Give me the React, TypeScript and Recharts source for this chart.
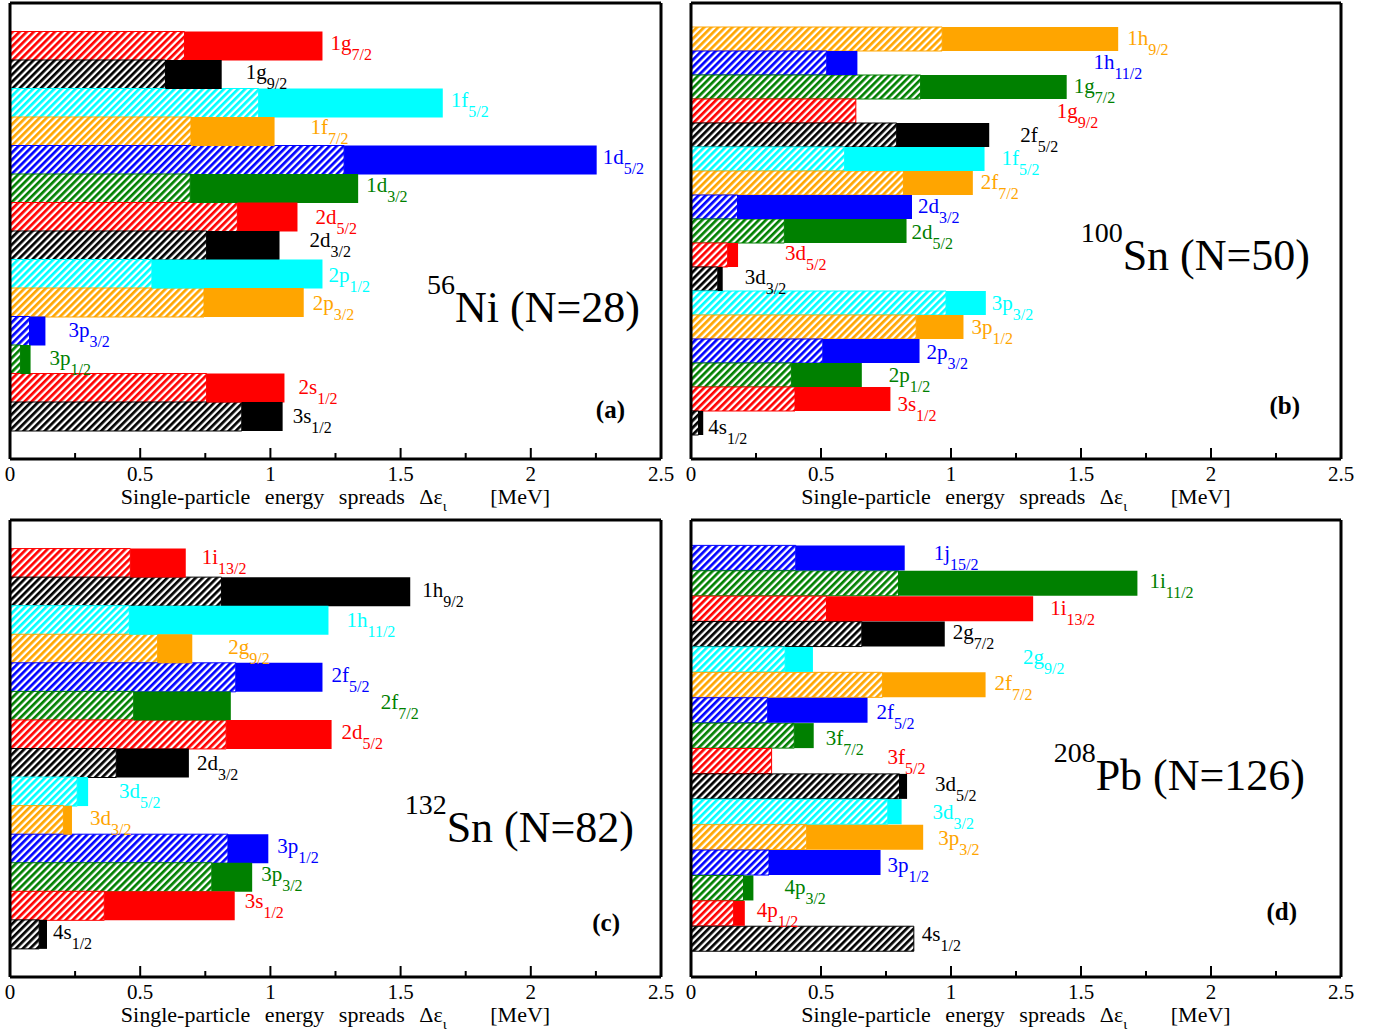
import React from 'react';
import { BarChart, Bar, XAxis, YAxis, Cell, LabelList } from 'recharts';

const SERIF = '"Liberation Serif", "Times New Roman", serif';

// colours cycle from the lowest bar upward
const PALETTE = ['#000000', '#ff0000', '#008000', '#0000ff', '#ffa500', '#00ffff'];

const TICKS = [0, 0.25, 0.5, 0.75, 1, 1.25, 1.5, 1.75, 2, 2.25, 2.5];
const TICK_LABELS = ['0', '', '0.5', '', '1', '', '1.5', '', '2', '', '2.5'];

// (a) 56Ni
const orbitalsA = ['1g7/2', '1g9/2', '1f5/2', '1f7/2', '1d5/2', '1d3/2', '2d5/2', '2d3/2', '2p1/2', '2p3/2', '3p3/2', '3p1/2', '2s1/2', '3s1/2'];
const hatchA = [0.67, 0.597, 0.955, 0.695, 1.283, 0.692, 0.873, 0.755, 0.545, 0.745, 0.075, 0.04, 0.755, 0.89];
const totalA = [1.2, 0.813, 1.662, 1.016, 2.253, 1.337, 1.104, 1.035, 1.2, 1.128, 0.136, 0.079, 1.054, 1.047];

// (b) 100Sn
const orbitalsB = ['1h9/2', '1h11/2', '1g7/2', '1g9/2', '2f5/2', '1f5/2', '2f7/2', '2d3/2', '2d5/2', '3d5/2', '3d3/2', '3p3/2', '3p1/2', '2p3/2', '2p1/2', '3s1/2', '4s1/2'];
const hatchB = [0.966, 0.522, 0.883, 0.634, 0.791, 0.591, 0.817, 0.179, 0.359, 0.141, 0.103, 0.981, 0.866, 0.507, 0.386, 0.4, 0.029];
const totalB = [1.643, 0.64, 1.445, 0.634, 1.147, 1.129, 1.084, 0.85, 0.829, 0.181, 0.122, 1.134, 1.048, 0.879, 0.657, 0.767, 0.047];

// (c) 132Sn
const orbitalsC = ['1i13/2', '1h9/2', '1h11/2', '2g9/2', '2f5/2', '2f7/2', '2d5/2', '2d3/2', '3d5/2', '3d3/2', '3p1/2', '3p3/2', '3s1/2', '4s1/2'];
const hatchC = [0.462, 0.812, 0.458, 0.567, 0.867, 0.475, 0.83, 0.408, 0.258, 0.205, 0.837, 0.775, 0.362, 0.112];
const totalC = [0.675, 1.537, 1.223, 0.7, 1.2, 0.848, 1.235, 0.687, 0.3, 0.238, 0.992, 0.93, 0.863, 0.142];

// (d) 208Pb
const orbitalsD = ['1j15/2', '1i11/2', '1i13/2', '2g7/2', '2g9/2', '2f7/2', '2f5/2', '3f7/2', '3f5/2', '3d5/2', '3d3/2', '3p3/2', '3p1/2', '4p3/2', '4p1/2', '4s1/2'];
const hatchD = [0.403, 0.798, 0.521, 0.657, 0.362, 0.736, 0.295, 0.397, 0.31, 0.802, 0.757, 0.445, 0.3, 0.202, 0.164, 0.857];
const totalD = [0.822, 1.717, 1.316, 0.976, 0.469, 1.133, 0.679, 0.472, 0.31, 0.831, 0.81, 0.893, 0.729, 0.24, 0.207, 0.857];

// label nudges [dx from bar end, dy from bar centre]
const nudgeA = [[8, -3], [24, -3], [8, -3], [36, -5], [6, -3], [8, -4], [18, 0], [30, -6], [6, 1], [9, 0], [23, -1], [19, -2], [14, -1], [10, -1]];
const nudgeB = [[9, -1], [236, -1], [7, -1], [201, 0], [31, 0], [17, -1], [8, -1], [6, -1], [5, 1], [47, -2], [22, -2], [6, 0], [8, 0], [7, 1], [27, 0], [7, 5], [5, 4]];
const nudgeC = [[16, -6], [12, -2], [18, 0], [36, -2], [9, -2], [150, -4], [10, -2], [8, 0], [31, -1], [18, -2], [9, -3], [9, -3], [10, -5], [6, -2]];
const nudgeD = [[29, -5], [12, -2], [17, -1], [8, -2], [210, -2], [9, -2], [9, 2], [12, 2], [116, -4], [28, -2], [31, 0], [15, 1], [7, 2], [31, -1], [12, -3], [8, -5]];

const BottomTick = (p: any) => {
  const k = TICKS.indexOf(p.payload.value);
  const lbl = TICK_LABELS[k];
  return (
    <g>
      <line x1={p.x} x2={p.x} y1={p.y} y2={p.y - (lbl ? 11 : 6)} stroke="#000" strokeWidth={2} />
      {lbl && (
        <text x={p.x} y={p.y + 22} textAnchor="middle" fontFamily={SERIF} fontSize={21} fill="#000">
          {lbl}
        </text>
      )}
    </g>
  );
};

const TopTick = (p: any) => {
  const k = TICKS.indexOf(p.payload.value);
  const major = TICK_LABELS[k] !== '';
  return <line x1={p.x} x2={p.x} y1={p.y} y2={p.y + (major ? 11 : 6)} stroke="#000" strokeWidth={2} />;
};

function Panel(props: any) {
  const { id, left, top, width, height, margin, orbitals, hatch, total, nudge, sup, nucleus, titleX, titleY, tag, tagX, tagY } = props;
  const n = orbitals.length;
  const rows = orbitals.map((name: string, i: number) => ({
    name,
    hatch: hatch[i],
    solid: Math.max(0, total[i] - hatch[i]),
  }));
  const colors = orbitals.map((_: string, i: number) => PALETTE[(n - 1 - i) % 6]);
  const plotH = height - margin.top - margin.bottom - 2;
  const plotW = width - margin.left - margin.right - 2;
  const pad = plotH / (n + 2);
  const cx = margin.left + 1 + plotW / 2;
  const axisY = height - margin.bottom - 1;

  // labels hang off the hatched segment (never zero) and are pushed to the bar's full length
  const renderLabel = (p: any) => {
    const i = typeof p.value === 'string' ? orbitals.indexOf(p.value) : p.index;
    if (i < 0) return null;
    const end = Number(p.x) + (Number(p.width) * total[i]) / hatch[i];
    const cy = Number(p.y) + Number(p.height) / 2;
    const [dx, dy] = nudge[i];
    const name = orbitals[i];
    return (
      <text key={name} x={end + dx} y={cy + dy + 7} fill={colors[i]} fontFamily={SERIF} fontSize={21}>
        {name.slice(0, 2)}
        <tspan dy={10} fontSize={16}>{name.slice(2)}</tspan>
      </text>
    );
  };

  return (
    <div style={{ position: 'absolute', left, top, width, height }}>
      <BarChart width={width} height={height} data={rows} layout="vertical" margin={margin} barCategoryGap={0} barGap={0}>
        <defs>
          {PALETTE.map((c, k) => (
            <pattern key={k} id={`${id}-h${k}`} patternUnits="userSpaceOnUse" width={5} height={5} patternTransform="rotate(45)">
              <rect width={5} height={5} fill="#fff" />
              <rect width={2.7} height={5} fill={c} />
            </pattern>
          ))}
        </defs>
        <XAxis type="number" domain={[0, 2.5]} ticks={TICKS} interval={0} height={1} tickSize={0} tickMargin={0}
          tickLine={false} axisLine={{ stroke: '#000', strokeWidth: 3 }} tick={(p: any) => <BottomTick {...p} />} />
        <XAxis xAxisId="top" orientation="top" type="number" domain={[0, 2.5]} ticks={TICKS} interval={0} height={1}
          tickSize={0} tickMargin={0} tickLine={false} axisLine={{ stroke: '#000', strokeWidth: 3 }} tick={(p: any) => <TopTick {...p} />} />
        <YAxis type="category" dataKey="name" width={1} tick={false} tickLine={false}
          axisLine={{ stroke: '#000', strokeWidth: 3 }} padding={{ top: pad, bottom: pad }} />
        <YAxis yAxisId="r" orientation="right" type="category" dataKey="name" width={1} tick={false} tickLine={false}
          axisLine={{ stroke: '#000', strokeWidth: 3 }} padding={{ top: pad, bottom: pad }} />
        <Bar dataKey="hatch" stackId="s" isAnimationActive={false}>
          {rows.map((_: any, i: number) => (
            <Cell key={i} fill={`url(#${id}-h${PALETTE.indexOf(colors[i])})`} stroke={colors[i]} strokeWidth={1} />
          ))}
          <LabelList dataKey="name" content={renderLabel} />
        </Bar>
        <Bar dataKey="solid" stackId="s" isAnimationActive={false}>
          {rows.map((_: any, i: number) => (
            <Cell key={i} fill={colors[i]} />
          ))}
        </Bar>
        <text x={titleX} y={titleY} textAnchor="end" fontFamily={SERIF} fontSize={44} fill="#000">
          <tspan fontSize={28} dy={-28}>{sup}</tspan>
          <tspan dy={28}>{nucleus}</tspan>
        </text>
        <text x={tagX} y={tagY} textAnchor="end" fontFamily={SERIF} fontSize={25} fontWeight="bold" fill="#000">
          {tag}
        </text>
        <text x={cx} y={axisY + 45} textAnchor="middle" fontFamily={SERIF} fontSize={22} fill="#000" wordSpacing={9}>
          Single-particle energy spreads Δε
          <tspan dy={7} fontSize={15}>ι</tspan>
          <tspan dy={-7}>{'\u00a0\u00a0 [MeV]'}</tspan>
        </text>
      </BarChart>
    </div>
  );
}

export default function App() {
  return (
    <div style={{ position: 'relative', width: 1388, height: 1034, background: '#fff' }}>
      <style>{'body { margin: 0; }'}</style>
      <Panel id="pa" left={0} top={0} width={680} height={517} margin={{ top: 2, left: 9, right: 18, bottom: 57 }}
        orbitals={orbitalsA} hatch={hatchA} total={totalA} nudge={nudgeA}
        sup="56" nucleus="Ni (N=28)" titleX={640} titleY={322} tag="(a)" tagX={625} tagY={418} />
      <Panel id="pb" left={680} top={0} width={708} height={517} margin={{ top: 2, left: 10, right: 46, bottom: 57 }}
        orbitals={orbitalsB} hatch={hatchB} total={totalB} nudge={nudgeB}
        sup="100" nucleus="Sn (N=50)" titleX={630} titleY={270} tag="(b)" tagX={620} tagY={414} />
      <Panel id="pc" left={0} top={517} width={680} height={517} margin={{ top: 2, left: 9, right: 18, bottom: 56 }}
        orbitals={orbitalsC} hatch={hatchC} total={totalC} nudge={nudgeC}
        sup="132" nucleus="Sn (N=82)" titleX={634} titleY={325} tag="(c)" tagX={620} tagY={414} />
      <Panel id="pd" left={680} top={517} width={708} height={517} margin={{ top: 2, left: 10, right: 46, bottom: 56 }}
        orbitals={orbitalsD} hatch={hatchD} total={totalD} nudge={nudgeD}
        sup="208" nucleus="Pb (N=126)" titleX={625} titleY={273} tag="(d)" tagX={617} tagY={403} />
    </div>
  );
}
